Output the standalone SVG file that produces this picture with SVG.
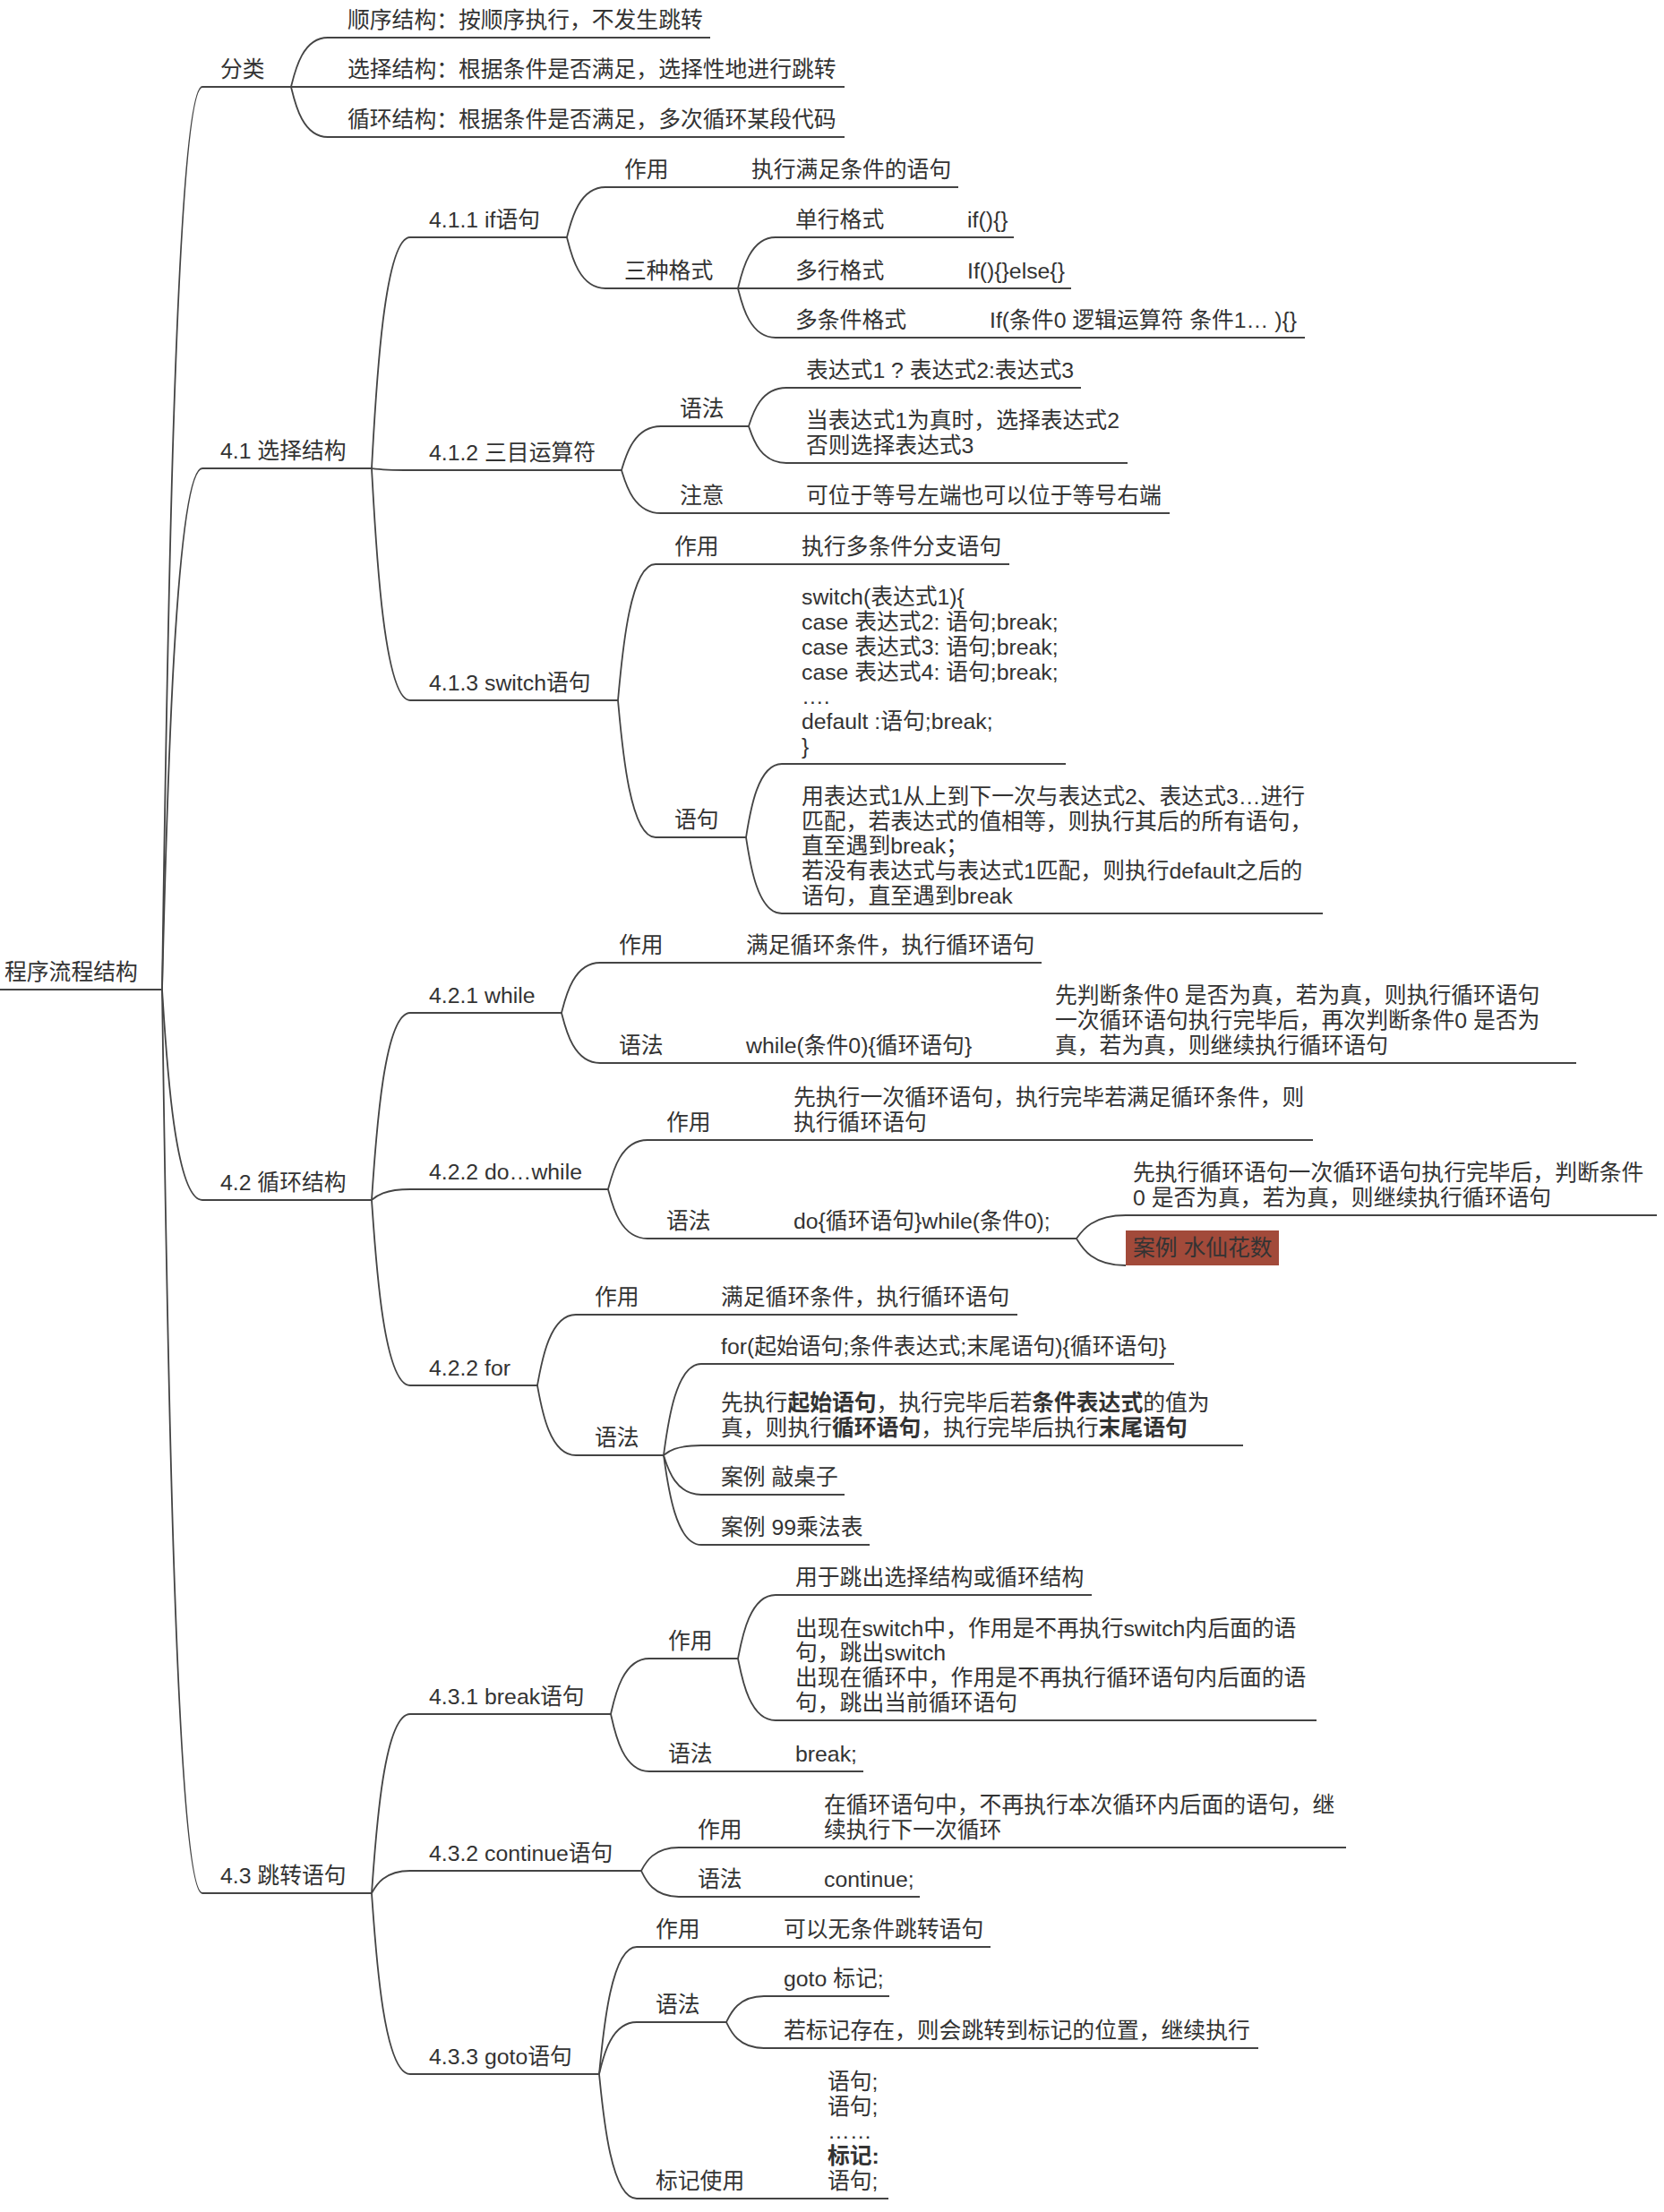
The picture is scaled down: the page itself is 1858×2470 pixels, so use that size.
<svg xmlns="http://www.w3.org/2000/svg" width="1858" height="2470" viewBox="0 0 1858 2470">
<style>
.t{font-family:"Liberation Sans","Noto Sans CJK SC",sans-serif;font-size:24.8px;fill:#333333}
.b{font-weight:bold}
.u{stroke:#444444;stroke-width:2;fill:none}
.c{stroke:#444444;stroke-width:1.8;fill:none}
</style>
<rect width="1858" height="2470" fill="#ffffff"/>
<g id="connectors">
<path class="c" d="M181,1105 C185.5,802.6 194.5,97 226,97"/>
<path class="c" d="M181,1105 C185.5,930.4 194.5,523 226,523"/>
<path class="c" d="M181,1105 C185.5,1175.5 194.5,1340 226,1340"/>
<path class="c" d="M181,1105 C185.5,1407.7 194.5,2114 226,2114"/>
<path class="c" d="M325,97 C329.1,80.5 337.3,42 366,42"/>
<path class="c" d="M325,97 L366,97"/>
<path class="c" d="M325,97 C329.1,113.8 337.3,153 366,153"/>
<path class="c" d="M415,523 C419.3,445.6 427.9,265 458,265"/>
<path class="c" d="M415,523 C419.3,523.6 427.9,525 458,525"/>
<path class="c" d="M415,523 C419.3,600.7 427.9,782 458,782"/>
<path class="c" d="M633,265 C637.3,248.2 645.9,209 676,209"/>
<path class="c" d="M633,265 C637.3,282.1 645.9,322 676,322"/>
<path class="c" d="M757,209 L829,209"/>
<path class="c" d="M824,322 C828.2,304.9 836.6,265 866,265"/>
<path class="c" d="M824,322 L866,322"/>
<path class="c" d="M824,322 C828.2,338.5 836.6,377 866,377"/>
<path class="c" d="M997,265 L1070,265"/>
<path class="c" d="M997,322 L1070,322"/>
<path class="c" d="M1022,377 L1095,377"/>
<path class="c" d="M694,525 C698.4,510.3 707.2,476 738,476"/>
<path class="c" d="M694,525 C698.4,539.4 707.2,573 738,573"/>
<path class="c" d="M836,476 C840.2,463.1 848.6,433 878,433"/>
<path class="c" d="M836,476 C840.2,488.3 848.6,517 878,517"/>
<path class="c" d="M819,573 L890,573"/>
<path class="c" d="M690,782 C694.2,736.4 702.6,630 732,630"/>
<path class="c" d="M690,782 C694.2,827.9 702.6,935 732,935"/>
<path class="c" d="M813,630 L885,630"/>
<path class="c" d="M833,935 C837,910.4 845,853 873,853"/>
<path class="c" d="M833,935 C837,960.5 845,1020 873,1020"/>
<path class="c" d="M415,1340 C419.3,1277.3 427.9,1131 458,1131"/>
<path class="c" d="M415,1340 C419.3,1336.4 427.9,1328 458,1328"/>
<path class="c" d="M415,1340 C419.3,1402.1 427.9,1547 458,1547"/>
<path class="c" d="M627,1131 C631.3,1114.2 639.9,1075 670,1075"/>
<path class="c" d="M627,1131 C631.3,1147.8 639.9,1187 670,1187"/>
<path class="c" d="M751,1075 L823,1075"/>
<path class="c" d="M751,1187 L823,1187"/>
<path class="c" d="M1093,1187 L1168,1187"/>
<path class="c" d="M679,1328 C683.4,1311.5 692.2,1273 723,1273"/>
<path class="c" d="M679,1328 C683.4,1344.5 692.2,1383 723,1383"/>
<path class="c" d="M804,1273 L876,1273"/>
<path class="c" d="M804,1383 L876,1383"/>
<path class="c" d="M1202,1383 C1207.5,1375.2 1218.5,1357 1257,1357"/>
<path class="c" d="M1202,1383 C1207.5,1392 1218.5,1413 1257,1413"/>
<path class="c" d="M600,1547 C604.3,1523.3 612.9,1468 643,1468"/>
<path class="c" d="M600,1547 C604.3,1570.4 612.9,1625 643,1625"/>
<path class="c" d="M724,1468 L795,1468"/>
<path class="c" d="M741,1625 C745.2,1594.4 753.6,1523 783,1523"/>
<path class="c" d="M741,1625 C745.2,1621.7 753.6,1614 783,1614"/>
<path class="c" d="M741,1625 C745.2,1638.2 753.6,1669 783,1669"/>
<path class="c" d="M741,1625 C745.2,1655 753.6,1725 783,1725"/>
<path class="c" d="M415,2114 C419.3,2054 427.9,1914 458,1914"/>
<path class="c" d="M415,2114 C419.3,2106.5 427.9,2089 458,2089"/>
<path class="c" d="M415,2114 C419.3,2174.6 427.9,2316 458,2316"/>
<path class="c" d="M682,1914 C686.3,1895.4 694.9,1852 725,1852"/>
<path class="c" d="M682,1914 C686.3,1933.2 694.9,1978 725,1978"/>
<path class="c" d="M824,1852 C828.2,1830.7 836.6,1781 866,1781"/>
<path class="c" d="M824,1852 C828.2,1872.7 836.6,1921 866,1921"/>
<path class="c" d="M806,1978 L878,1978"/>
<path class="c" d="M716,2089 C720.2,2081.2 728.6,2063 758,2063"/>
<path class="c" d="M716,2089 C720.2,2097.7 728.6,2118 758,2118"/>
<path class="c" d="M839,2063 L910,2063"/>
<path class="c" d="M839,2118 L910,2118"/>
<path class="c" d="M669,2316 C673.2,2273.4 681.6,2174 711,2174"/>
<path class="c" d="M669,2316 C673.2,2298.6 681.6,2258 711,2258"/>
<path class="c" d="M669,2316 C673.2,2357.7 681.6,2455 711,2455"/>
<path class="c" d="M792,2174 L865,2174"/>
<path class="c" d="M811,2258 C815.2,2249.3 823.6,2229 853,2229"/>
<path class="c" d="M811,2258 C815.2,2266.7 823.6,2287 853,2287"/>
<path class="c" d="M841,2455 L914,2455"/>
</g>

<g id="n-root"><text class="t" x="5" y="1094">程序流程结构</text><line class="u" x1="0" y1="1105" x2="181" y2="1105"/></g>

<g id="n-fl"><text class="t" x="246" y="86">分类</text><line class="u" x1="226" y1="97" x2="325" y2="97"/></g>
<g id="n-fl1"><text class="t" x="388" y="31">顺序结构：按顺序执行，不发生跳转</text><line class="u" x1="366" y1="42" x2="793" y2="42"/></g>
<g id="n-fl2"><text class="t" x="388" y="86">选择结构：根据条件是否满足，选择性地进行跳转</text><line class="u" x1="366" y1="97" x2="943" y2="97"/></g>
<g id="n-fl3"><text class="t" x="388" y="142">循环结构：根据条件是否满足，多次循环某段代码</text><line class="u" x1="366" y1="153" x2="943" y2="153"/></g>

<g id="n-41"><text class="t" x="246" y="512">4.1 选择结构</text><line class="u" x1="226" y1="523" x2="415" y2="523"/></g>
<g id="n-411"><text class="t" x="479" y="254">4.1.1 if语句</text><line class="u" x1="458" y1="265" x2="633" y2="265"/></g>
<g id="n-411a"><text class="t" x="697" y="198">作用</text><line class="u" x1="676" y1="209" x2="757" y2="209"/></g>
<g id="n-411a1"><text class="t" x="839" y="198">执行满足条件的语句</text><line class="u" x1="829" y1="209" x2="1070" y2="209"/></g>
<g id="n-411b"><text class="t" x="697" y="311">三种格式</text><line class="u" x1="676" y1="322" x2="824" y2="322"/></g>
<g id="n-411b1"><text class="t" x="888" y="254">单行格式</text><line class="u" x1="866" y1="265" x2="997" y2="265"/></g>
<g id="n-411b1a"><text class="t" x="1080" y="254">if(){}</text><line class="u" x1="1070" y1="265" x2="1132" y2="265"/></g>
<g id="n-411b2"><text class="t" x="888" y="311">多行格式</text><line class="u" x1="866" y1="322" x2="997" y2="322"/></g>
<g id="n-411b2a"><text class="t" x="1080" y="311">If(){}else{}</text><line class="u" x1="1070" y1="322" x2="1196" y2="322"/></g>
<g id="n-411b3"><text class="t" x="888" y="366">多条件格式</text><line class="u" x1="866" y1="377" x2="1022" y2="377"/></g>
<g id="n-411b3a"><text class="t" x="1105" y="366">If(条件0 逻辑运算符 条件1… ){}</text><line class="u" x1="1095" y1="377" x2="1457" y2="377"/></g>

<g id="n-412"><text class="t" x="479" y="514">4.1.2 三目运算符</text><line class="u" x1="458" y1="525" x2="694" y2="525"/></g>
<g id="n-412a"><text class="t" x="759" y="465">语法</text><line class="u" x1="738" y1="476" x2="836" y2="476"/></g>
<g id="n-412a1"><text class="t" x="900" y="422">表达式1 ? 表达式2:表达式3</text><line class="u" x1="878" y1="433" x2="1207" y2="433"/></g>
<g id="n-412a2"><text class="t" x="900" y="478.2">当表达式1为真时，选择表达式2<tspan x="900" y="506">否则选择表达式3</tspan></text><line class="u" x1="878" y1="517" x2="1259" y2="517"/></g>
<g id="n-412b"><text class="t" x="759" y="562">注意</text><line class="u" x1="738" y1="573" x2="819" y2="573"/></g>
<g id="n-412b1"><text class="t" x="900" y="562">可位于等号左端也可以位于等号右端</text><line class="u" x1="890" y1="573" x2="1306" y2="573"/></g>

<g id="n-413"><text class="t" x="479" y="771">4.1.3 switch语句</text><line class="u" x1="458" y1="782" x2="690" y2="782"/></g>
<g id="n-413a"><text class="t" x="753" y="619">作用</text><line class="u" x1="732" y1="630" x2="813" y2="630"/></g>
<g id="n-413a1"><text class="t" x="895" y="619">执行多条件分支语句</text><line class="u" x1="885" y1="630" x2="1127" y2="630"/></g>
<g id="n-413b"><text class="t" x="753" y="924">语句</text><line class="u" x1="732" y1="935" x2="833" y2="935"/></g>
<g id="n-413b1"><text class="t" x="895" y="675.2">switch(表达式1){<tspan x="895" y="703">case 表达式2: 语句;break;</tspan><tspan x="895" y="730.8">case 表达式3: 语句;break;</tspan><tspan x="895" y="758.6">case 表达式4: 语句;break;</tspan><tspan x="895" y="786.4">….</tspan><tspan x="895" y="814.2">default :语句;break;</tspan><tspan x="895" y="842">}</tspan></text><line class="u" x1="873" y1="853" x2="1190" y2="853"/></g>
<g id="n-413b2"><text class="t" x="895" y="897.8">用表达式1从上到下一次与表达式2、表达式3…进行<tspan x="895" y="925.6">匹配，若表达式的值相等，则执行其后的所有语句，</tspan><tspan x="895" y="953.4">直至遇到break；</tspan><tspan x="895" y="981.2">若没有表达式与表达式1匹配，则执行default之后的</tspan><tspan x="895" y="1009">语句，直至遇到break</tspan></text><line class="u" x1="873" y1="1020" x2="1477" y2="1020"/></g>

<g id="n-42"><text class="t" x="246" y="1329">4.2 循环结构</text><line class="u" x1="226" y1="1340" x2="415" y2="1340"/></g>
<g id="n-421"><text class="t" x="479" y="1120">4.2.1 while</text><line class="u" x1="458" y1="1131" x2="627" y2="1131"/></g>
<g id="n-421a"><text class="t" x="691" y="1064">作用</text><line class="u" x1="670" y1="1075" x2="751" y2="1075"/></g>
<g id="n-421a1"><text class="t" x="833" y="1064">满足循环条件，执行循环语句</text><line class="u" x1="823" y1="1075" x2="1163" y2="1075"/></g>
<g id="n-421b"><text class="t" x="691" y="1176">语法</text><line class="u" x1="670" y1="1187" x2="751" y2="1187"/></g>
<g id="n-421b1"><text class="t" x="833" y="1176">while(条件0){循环语句}</text><line class="u" x1="823" y1="1187" x2="1093" y2="1187"/></g>
<g id="n-421b1a"><text class="t" x="1178" y="1120.4">先判断条件0 是否为真，若为真，则执行循环语句<tspan x="1178" y="1148.2">一次循环语句执行完毕后，再次判断条件0 是否为</tspan><tspan x="1178" y="1176">真，若为真，则继续执行循环语句</tspan></text><line class="u" x1="1168" y1="1187" x2="1760" y2="1187"/></g>

<g id="n-422"><text class="t" x="479" y="1317">4.2.2 do…while</text><line class="u" x1="458" y1="1328" x2="679" y2="1328"/></g>
<g id="n-422a"><text class="t" x="744" y="1262">作用</text><line class="u" x1="723" y1="1273" x2="804" y2="1273"/></g>
<g id="n-422a1"><text class="t" x="886" y="1234.2">先执行一次循环语句，执行完毕若满足循环条件，则<tspan x="886" y="1262">执行循环语句</tspan></text><line class="u" x1="876" y1="1273" x2="1466" y2="1273"/></g>
<g id="n-422b"><text class="t" x="744" y="1372">语法</text><line class="u" x1="723" y1="1383" x2="804" y2="1383"/></g>
<g id="n-422b1"><text class="t" x="886" y="1372">do{循环语句}while(条件0);</text><line class="u" x1="876" y1="1383" x2="1202" y2="1383"/></g>
<g id="n-422b1a"><text class="t" x="1265" y="1318.2">先执行循环语句一次循环语句执行完毕后，判断条件<tspan x="1265" y="1346">0 是否为真，若为真，则继续执行循环语句</tspan></text><line class="u" x1="1257" y1="1357" x2="1850" y2="1357"/></g>
<g id="n-422b1b"><rect x="1257" y="1374" width="171" height="39" fill="#A24A3A"/><text class="t" x="1265" y="1402">案例 水仙花数</text></g>

<g id="n-423"><text class="t" x="479" y="1536">4.2.2 for</text><line class="u" x1="458" y1="1547" x2="600" y2="1547"/></g>
<g id="n-423a"><text class="t" x="664" y="1457">作用</text><line class="u" x1="643" y1="1468" x2="724" y2="1468"/></g>
<g id="n-423a1"><text class="t" x="805" y="1457">满足循环条件，执行循环语句</text><line class="u" x1="795" y1="1468" x2="1136" y2="1468"/></g>
<g id="n-423b"><text class="t" x="664" y="1614">语法</text><line class="u" x1="643" y1="1625" x2="741" y2="1625"/></g>
<g id="n-423b1"><text class="t" x="805" y="1512">for(起始语句;条件表达式;末尾语句){循环语句}</text><line class="u" x1="783" y1="1523" x2="1311" y2="1523"/></g>
<g id="n-423b2"><text class="t" x="805" y="1575.2">先执行<tspan class="b">起始语句</tspan>，执行完毕后若<tspan class="b">条件表达式</tspan>的值为<tspan x="805" y="1603">真，则执行</tspan><tspan class="b">循环语句</tspan>，执行完毕后执行<tspan class="b">末尾语句</tspan></text><line class="u" x1="783" y1="1614" x2="1388" y2="1614"/></g>
<g id="n-423b3"><text class="t" x="805" y="1658">案例 敲桌子</text><line class="u" x1="783" y1="1669" x2="943" y2="1669"/></g>
<g id="n-423b4"><text class="t" x="805" y="1714">案例 99乘法表</text><line class="u" x1="783" y1="1725" x2="971" y2="1725"/></g>

<g id="n-43"><text class="t" x="246" y="2103">4.3 跳转语句</text><line class="u" x1="226" y1="2114" x2="415" y2="2114"/></g>
<g id="n-431"><text class="t" x="479" y="1903">4.3.1 break语句</text><line class="u" x1="458" y1="1914" x2="682" y2="1914"/></g>
<g id="n-431a"><text class="t" x="746" y="1841">作用</text><line class="u" x1="725" y1="1852" x2="824" y2="1852"/></g>
<g id="n-431a1"><text class="t" x="888" y="1770">用于跳出选择结构或循环结构</text><line class="u" x1="866" y1="1781" x2="1219" y2="1781"/></g>
<g id="n-431a2"><text class="t" x="888" y="1826.6">出现在switch中，作用是不再执行switch内后面的语<tspan x="888" y="1854.4">句，跳出switch</tspan><tspan x="888" y="1882.2">出现在循环中，作用是不再执行循环语句内后面的语</tspan><tspan x="888" y="1910">句，跳出当前循环语句</tspan></text><line class="u" x1="866" y1="1921" x2="1470" y2="1921"/></g>
<g id="n-431b"><text class="t" x="746" y="1967">语法</text><line class="u" x1="725" y1="1978" x2="806" y2="1978"/></g>
<g id="n-431b1"><text class="t" x="888" y="1967">break;</text><line class="u" x1="878" y1="1978" x2="964" y2="1978"/></g>

<g id="n-432"><text class="t" x="479" y="2078">4.3.2 continue语句</text><line class="u" x1="458" y1="2089" x2="716" y2="2089"/></g>
<g id="n-432a"><text class="t" x="779" y="2052">作用</text><line class="u" x1="758" y1="2063" x2="839" y2="2063"/></g>
<g id="n-432a1"><text class="t" x="920" y="2024.2">在循环语句中，不再执行本次循环内后面的语句，继<tspan x="920" y="2052">续执行下一次循环</tspan></text><line class="u" x1="910" y1="2063" x2="1503" y2="2063"/></g>
<g id="n-432b"><text class="t" x="779" y="2107">语法</text><line class="u" x1="758" y1="2118" x2="839" y2="2118"/></g>
<g id="n-432b1"><text class="t" x="920" y="2107">continue;</text><line class="u" x1="910" y1="2118" x2="1027" y2="2118"/></g>

<g id="n-433"><text class="t" x="479" y="2305">4.3.3 goto语句</text><line class="u" x1="458" y1="2316" x2="669" y2="2316"/></g>
<g id="n-433a"><text class="t" x="732" y="2163">作用</text><line class="u" x1="711" y1="2174" x2="792" y2="2174"/></g>
<g id="n-433a1"><text class="t" x="875" y="2163">可以无条件跳转语句</text><line class="u" x1="865" y1="2174" x2="1106" y2="2174"/></g>
<g id="n-433b"><text class="t" x="732" y="2247">语法</text><line class="u" x1="711" y1="2258" x2="811" y2="2258"/></g>
<g id="n-433b1"><text class="t" x="875" y="2218">goto 标记;</text><line class="u" x1="853" y1="2229" x2="993" y2="2229"/></g>
<g id="n-433b2"><text class="t" x="875" y="2276">若标记存在，则会跳转到标记的位置，继续执行</text><line class="u" x1="853" y1="2287" x2="1405" y2="2287"/></g>
<g id="n-433c"><text class="t" x="732" y="2444">标记使用</text><line class="u" x1="711" y1="2455" x2="841" y2="2455"/></g>
<g id="n-433c1"><text class="t" x="924" y="2332.8">语句;<tspan x="924" y="2360.6">语句;</tspan><tspan x="924" y="2388.4">……</tspan><tspan x="924" y="2416.2" class="b">标记:</tspan><tspan x="924" y="2444">语句;</tspan></text><line class="u" x1="914" y1="2455" x2="992" y2="2455"/></g>
</svg>
